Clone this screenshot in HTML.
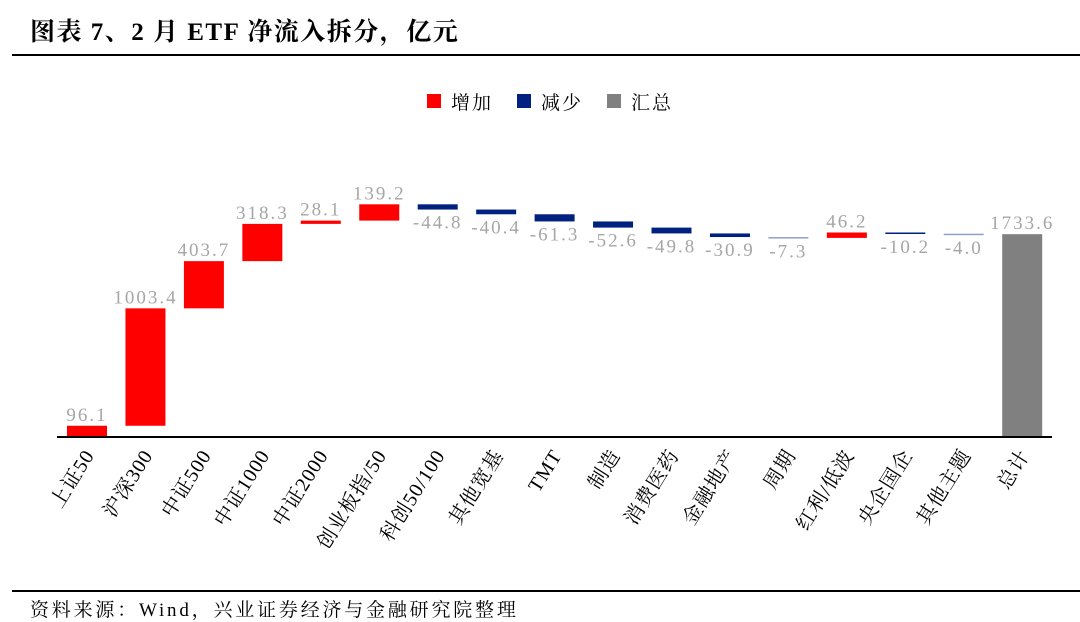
<!DOCTYPE html>
<html><head><meta charset="utf-8"><style>
body{margin:0;background:#fff;width:1080px;height:620px;overflow:hidden;position:relative;font-family:"Liberation Serif","Noto Serif CJK SC",serif}
.title{position:absolute;left:30px;top:12px;font-size:25px;letter-spacing:1.5px;font-weight:bold;color:#000}
.hr{position:absolute;left:12px;right:0;height:2px;background:#000}
.src{position:absolute;left:30px;top:595px;font-size:19px;letter-spacing:2.8px}
</style></head><body>
<div class="title">图表 7、2 月 ETF 净流入拆分，亿元</div>
<div class="hr" style="top:54px"></div>
<div class="hr" style="top:590px;left:12px"></div>
<div class="src">资料来源：Wind，兴业证券经济与金融研究院整理</div>
<svg id="chart" width="1080" height="620" style="position:absolute;left:0;top:0"></svg>
<script>
const categories=["上证50","沪深300","中证500","中证1000","中证2000","创业板指/50","科创50/100","其他宽基","TMT","制造","消费医药","金融地产","周期","红利/低波","央企国企","其他主题","总计"];
const values=[96.1,1003.4,403.7,318.3,28.1,139.2,-44.8,-40.4,-61.3,-52.6,-49.8,-30.9,-7.3,46.2,-10.2,-4.0,1733.6];
const labels=["96.1","1003.4","403.7","318.3","28.1","139.2","-44.8","-40.4","-61.3","-52.6","-49.8","-30.9","-7.3","46.2","-10.2","-4.0","1733.6"];
const legendItems=[["增加","#ff0000"],["减少","#002180"],["汇总","#808080"]];
const svg=document.getElementById('chart');const NS="http://www.w3.org/2000/svg";
const base=437,k=0.117,x0=87,step=58.45,bw=40;
const y=v=>base-v*k;const xc=i=>x0+i*step;
function mk(t,a){const e=document.createElementNS(NS,t);for(const n in a)e.setAttribute(n,a[n]);svg.appendChild(e);return e;}
let cum=0;
values.forEach((v,i)=>{
 let a,b,col;
 if(i===values.length-1){a=0;b=v;col="#808080";}
 else{a=cum;b=cum+v;cum=b;col=v>=0?"#ff0000":"#002180";}
 const top=Math.min(y(a),y(b)),h=Math.max(Math.abs(y(a)-y(b)),1.5);
 const r=mk('rect',{x:xc(i)-bw/2,y:top,width:bw,height:h,fill:Math.abs(v)<8?"#8ea0c8":col});
 
 
 const pos=v>=0;
 const t=mk('text',{x:xc(i),y:pos?top-5:top+h+19,'text-anchor':'middle','font-size':'19','fill':'#a6a6a6','letter-spacing':'2','font-family':'"Liberation Serif",serif'});
 t.textContent=labels[i];
 
 
 const c=mk('text',{transform:`translate(${xc(i)+8},${base+18}) rotate(-58)`,'text-anchor':'end','font-size':'20','letter-spacing':'1','fill':'#000'});
 c.textContent=categories[i];
 
 
});
const ax=mk('line',{x1:57,x2:1052,y1:base,y2:base,stroke:'#000','stroke-width':2});


let lx=427;
legendItems.forEach((l,i)=>{
 const r=mk('rect',{x:lx,y:94,width:14,height:14,fill:l[1]});
 
 
 const t=mk('text',{x:lx+24,y:109,'font-size':'19','letter-spacing':'2','fill':'#000'});
 t.textContent=l[0];
 
 
 lx+=90;
});
</script>
</body></html>
